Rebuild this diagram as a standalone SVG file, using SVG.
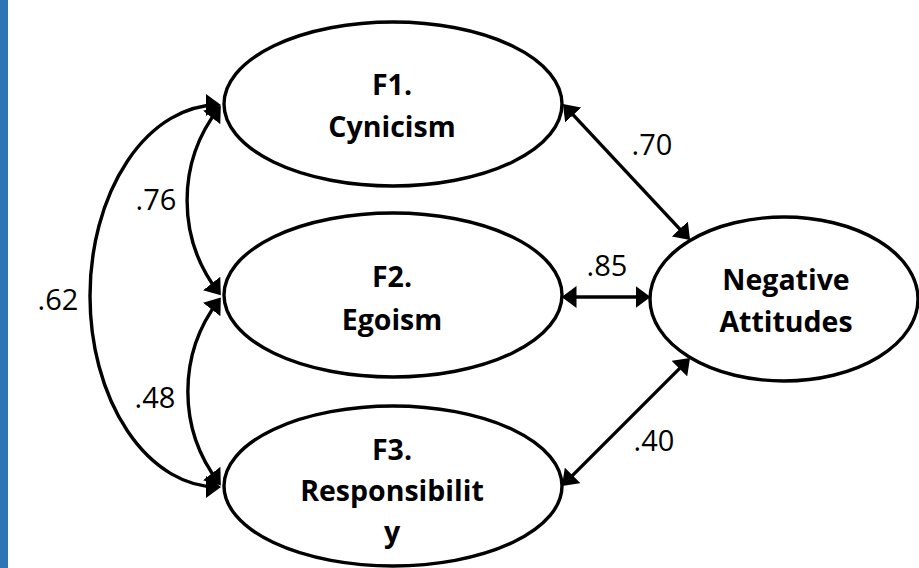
<svg xmlns="http://www.w3.org/2000/svg" width="919" height="568" viewBox="0 0 919 568">
<style>
.node ellipse{fill:#fff;stroke:#000;stroke-width:3.4}
.t{font-family:"Open Sans","Liberation Sans",sans-serif;font-weight:bold;font-size:28.5px;fill:#000;text-anchor:middle}
.lbl{font-family:"Open Sans","Liberation Sans",sans-serif;font-size:29px;fill:#000;text-anchor:middle}
.conn path{fill:none;stroke:#000;stroke-width:3.4;marker-start:url(#ah);marker-end:url(#ah)}
</style>
<defs>
<marker id="ah" markerUnits="userSpaceOnUse" viewBox="0 0 15 22" markerWidth="15" markerHeight="22" refX="12" refY="11" orient="auto-start-reverse">
<path d="M0,0 L15,11 L0,22 z" fill="#000"/>
</marker>
</defs>
<rect x="0" y="0" width="8" height="568" fill="#2E75B6"/>
<g id="connectors" class="conn">
<path d="M218 105 A128 191 0 0 0 218 487"/>
<path d="M219 108 A150 150 0 0 0 219 293"/>
<path d="M219 300 A150 150 0 0 0 219 483"/>
<path d="M565 106.2 L688 237.8"/>
<path d="M564.5 297 L647.5 297"/>
<path d="M564.1 483.9 L687.9 360.1"/>
</g>
<g id="F1" class="node">
<ellipse cx="393" cy="104" rx="169" ry="82"/>
<text class="t" x="392" y="95">F1.</text>
<text class="t" x="392" y="137">Cynicism</text>
</g>
<g id="F2" class="node">
<ellipse cx="393" cy="295" rx="169" ry="82"/>
<text class="t" x="392" y="287">F2.</text>
<text class="t" x="392" y="330">Egoism</text>
</g>
<g id="F3" class="node">
<ellipse cx="393" cy="486" rx="169" ry="80"/>
<text class="t" x="392" y="460">F3.</text>
<text class="t" x="392" y="501">Responsibilit</text>
<text class="t" x="392" y="542">y</text>
</g>
<g id="NA" class="node">
<ellipse cx="784" cy="299" rx="134" ry="82"/>
<text class="t" x="786" y="290">Negative</text>
<text class="t" x="786" y="332">Attitudes</text>
</g>
<g id="labels">
<text class="lbl" x="652" y="155">.70</text>
<text class="lbl" x="607" y="276">.85</text>
<text class="lbl" x="654" y="451">.40</text>
<text class="lbl" x="156" y="210">.76</text>
<text class="lbl" x="58" y="310">.62</text>
<text class="lbl" x="155" y="408">.48</text>
</g>
</svg>
